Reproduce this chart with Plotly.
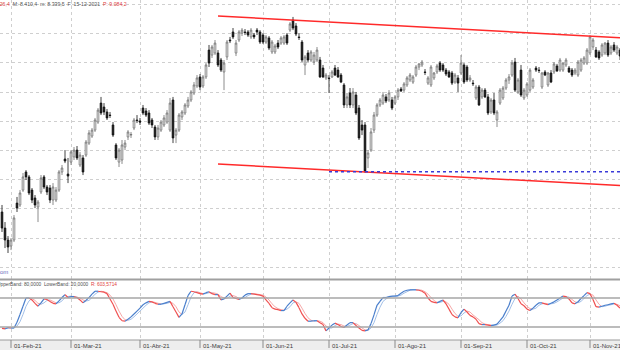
import pandas as pd
import plotly.graph_objects as go

# ---------------- data ----------------
dates = pd.bdate_range("2021-01-27", "2021-11-15", freq="C",
                       holidays=["2021-04-02", "2021-04-05"])

open_ = [7979, 7869, 7787, 7746, 7787, 8040, 8027, 8129, 8253, 8219, 8129, 8075, 8013, 8116, 8219, 8150, 8143, 8061, 8061, 8129,
         8253, 8342, 8239, 8321, 8356, 8403, 8301, 8349, 8369, 8451, 8499, 8540, 8595, 8725, 8698, 8664, 8643, 8575, 8438, 8321,
         8335, 8424, 8493, 8506, 8554, 8609, 8602, 8691, 8671, 8657, 8609, 8561, 8493, 8540, 8575, 8595, 8540, 8746, 8506, 8540,
         8630, 8657, 8705, 8746, 8794, 8842, 8904, 8842, 8904, 9088, 9054, 9068, 9068, 9020, 8938, 9041, 9157, 9212, 9068, 9157,
         9205, 9212, 9212, 9178, 9191, 9225, 9212, 9191, 9143, 9171, 9075, 9075, 9136, 9136, 9136, 9191, 9225, 9294, 9253, 9178,
         9143, 8986, 9068, 9020, 9006, 9020, 9020, 8965, 8897, 8897, 8904, 8965, 8951, 8917, 8849, 8712, 8794, 8712, 8780, 8691,
         8575, 8575, 8349, 8403, 8540, 8643, 8712, 8725, 8767, 8746, 8746, 8725, 8767, 8821, 8814, 8849, 8883, 8869, 8917, 8972,
         8986, 8938, 8862, 8849, 8897, 8938, 8999, 8986, 8951, 8938, 8931, 8869, 8897, 8931, 8986, 8972, 8883, 8862, 8760, 8835,
         8767, 8814, 8767, 8664, 8746, 8609, 8725, 8760, 8828, 8883, 8917, 9006, 8801, 8951, 8760, 8780, 8814, 8835, 8965, 8951,
         8835, 8938, 8849, 8931, 8938, 8979, 8951, 8951, 8986, 8965, 8951, 8931, 8917, 8951, 8999, 8999, 9068, 9109, 9088, 9075,
         9054, 9068, 9136, 9068, 9123, 9068, 9088]
high = [8027, 7910, 7814, 7801, 7958, 8082, 8129, 8246, 8266, 8232, 8143, 8095, 8061, 8232, 8232, 8164, 8164, 8177, 8150, 8266,
        8301, 8403, 8349, 8403, 8424, 8431, 8390, 8369, 8472, 8540, 8554, 8623, 8691, 8767, 8725, 8684, 8664, 8595, 8451, 8417,
        8472, 8472, 8540, 8527, 8623, 8643, 8623, 8712, 8691, 8677, 8623, 8575, 8575, 8609, 8643, 8677, 8760, 8767, 8554, 8657,
        8677, 8725, 8767, 8814, 8869, 8917, 8924, 8917, 8999, 9123, 9123, 9157, 9088, 9034, 9020, 9157, 9178, 9239, 9157, 9225,
        9239, 9232, 9225, 9239, 9205, 9239, 9225, 9205, 9191, 9184, 9157, 9130, 9157, 9184, 9191, 9205, 9280, 9315, 9273, 9205,
        9157, 9054, 9088, 9088, 9075, 9109, 9041, 8986, 8931, 8917, 8951, 8986, 8972, 8931, 8862, 8794, 8828, 8828, 8801, 8712,
        8609, 8595, 8403, 8554, 8664, 8725, 8760, 8801, 8787, 8814, 8767, 8780, 8828, 8835, 8869, 8910, 8931, 8917, 8986, 8999,
        9020, 8958, 8910, 8986, 8938, 8993, 9013, 8999, 8965, 8951, 8945, 8931, 8917, 9054, 8999, 8986, 8917, 8883, 8849, 8849,
        8828, 8828, 8787, 8760, 8794, 8677, 8828, 8842, 8897, 8924, 9020, 9034, 8897, 8986, 8828, 8869, 8965, 8897, 8979, 8972,
        8938, 8951, 8938, 8951, 9006, 8993, 9034, 9006, 9034, 8979, 8965, 8965, 9020, 9034, 9047, 9102, 9191, 9171, 9109, 9088,
        9136, 9143, 9157, 9123, 9143, 9123, 9102]
low = [7842, 7732, 7698, 7718, 7773, 7979, 8013, 8116, 8198, 8095, 8040, 8006, 7910, 8102, 8136, 8095, 8040, 8027, 8047, 8116,
       8232, 8314, 8177, 8301, 8335, 8335, 8287, 8232, 8356, 8438, 8486, 8527, 8582, 8643, 8643, 8609, 8623, 8493, 8335, 8287,
       8308, 8403, 8472, 8486, 8540, 8588, 8575, 8643, 8630, 8575, 8554, 8472, 8472, 8527, 8561, 8582, 8527, 8451, 8451, 8527,
       8609, 8643, 8691, 8732, 8780, 8828, 8814, 8828, 8890, 8972, 9034, 9054, 8972, 8938, 8814, 9020, 9136, 9164, 9047, 9143,
       9184, 9191, 9178, 9164, 9164, 9191, 9130, 9130, 9130, 9088, 9061, 9061, 9095, 9123, 9123, 9123, 9212, 9225, 9184, 9157,
       9006, 8917, 9006, 9006, 8986, 9006, 8897, 8897, 8883, 8794, 8897, 8910, 8897, 8862, 8691, 8691, 8691, 8691, 8643, 8472,
       8506, 8246, 8280, 8390, 8520, 8630, 8698, 8712, 8725, 8732, 8677, 8712, 8746, 8801, 8801, 8835, 8869, 8856, 8904, 8951,
       8972, 8917, 8849, 8835, 8883, 8924, 8938, 8938, 8910, 8897, 8849, 8856, 8801, 8917, 8856, 8869, 8869, 8842, 8746, 8705,
       8753, 8760, 8643, 8650, 8643, 8561, 8712, 8746, 8814, 8856, 8904, 8801, 8787, 8767, 8746, 8767, 8801, 8821, 8938, 8931,
       8821, 8910, 8835, 8862, 8924, 8938, 8938, 8938, 8972, 8931, 8904, 8917, 8904, 8938, 8986, 8986, 9054, 9088, 9034, 9020,
       9041, 9054, 9041, 9054, 9075, 9054, 9020]
close = [7869, 7787, 7739, 7787, 7938, 8006, 8109, 8219, 8219, 8109, 8061, 8027, 8047, 8212, 8150, 8116, 8061, 8150, 8129, 8253,
         8280, 8328, 8225, 8390, 8403, 8349, 8369, 8253, 8458, 8520, 8540, 8609, 8677, 8657, 8664, 8623, 8640, 8506, 8349, 8403,
         8438, 8451, 8527, 8510, 8609, 8605, 8595, 8657, 8643, 8588, 8575, 8493, 8554, 8595, 8623, 8657, 8725, 8486, 8540, 8643,
         8664, 8712, 8746, 8801, 8849, 8897, 8835, 8904, 8986, 8999, 9109, 9136, 8986, 8951, 8999, 9143, 9152, 9178, 9136, 9212,
         9225, 9208, 9191, 9225, 9178, 9212, 9143, 9143, 9178, 9102, 9143, 9116, 9109, 9171, 9178, 9136, 9267, 9239, 9198, 9174,
         9020, 9041, 9020, 9075, 9054, 9088, 8904, 8904, 8917, 8893, 8938, 8917, 8904, 8869, 8712, 8767, 8712, 8801, 8657, 8486,
         8540, 8260, 8383, 8527, 8643, 8712, 8746, 8780, 8739, 8794, 8691, 8767, 8814, 8808, 8856, 8897, 8917, 8904, 8972, 8993,
         9006, 8935, 8897, 8972, 8931, 8979, 8951, 8951, 8924, 8904, 8862, 8917, 8862, 8999, 8869, 8883, 8897, 8858, 8835, 8712,
         8814, 8767, 8657, 8746, 8657, 8664, 8814, 8828, 8883, 8904, 8999, 8814, 8883, 8780, 8814, 8856, 8951, 8883, 8951, 8948,
         8931, 8917, 8931, 8869, 8993, 8945, 9020, 8999, 9020, 8938, 8917, 8951, 9006, 9020, 9034, 9088, 9178, 9157, 9041, 9034,
         9123, 9136, 9054, 9109, 9088, 9109, 9047]

stoch_k = [17, 16, 19, 18, 18, 30, 46, 63, 80, 80, 76, 69, 63, 70, 78, 77, 73, 69, 68, 74,
           81, 87, 81, 83, 83, 81, 76, 70, 75, 81, 88, 94, 94, 93, 92, 89, 78, 67, 53, 40,
           33, 32, 36, 41, 47, 53, 59, 66, 70, 73, 72, 69, 67, 67, 69, 71, 73, 62, 51, 40,
           47, 66, 85, 94, 93, 91, 89, 88, 91, 93, 89, 87, 87, 76, 78, 84, 90, 81, 79, 77,
           80, 86, 89, 89, 88, 87, 86, 84, 76, 69, 60, 57, 56, 54, 54, 63, 70, 76, 71, 60,
           47, 38, 32, 32, 33, 33, 29, 25, 12, 18, 24, 28, 25, 21, 19, 24, 29, 29, 23, 18,
           13, 12, 14, 27, 45, 65, 73, 81, 81, 83, 84, 84, 85, 90, 94, 96, 97, 97, 97, 96,
           94, 90, 80, 73, 71, 70, 73, 76, 68, 57, 46, 41, 39, 50, 57, 51, 44, 41, 36, 27,
           25, 25, 24, 23, 24, 26, 33, 41, 53, 65, 84, 88, 79, 68, 64, 57, 54, 59, 65, 70,
           70, 68, 66, 69, 72, 76, 80, 84, 83, 78, 70, 68, 72, 79, 85, 91, 89, 77, 62, 61,
           63, 65, 66, 68, 69, 65, 59]
stoch_d = [18, 17, 17, 18, 18, 22, 31, 46, 63, 74, 79, 75, 69, 67, 70, 75, 76, 73, 70, 70,
           74, 81, 83, 84, 82, 82, 80, 76, 74, 75, 81, 88, 92, 94, 93, 91, 86, 78, 66, 53,
           42, 35, 34, 36, 41, 47, 53, 59, 65, 70, 72, 71, 69, 68, 68, 69, 71, 69, 62, 51,
           46, 51, 66, 82, 91, 93, 91, 89, 89, 91, 91, 90, 88, 83, 80, 79, 84, 85, 83, 79,
           79, 81, 85, 88, 89, 88, 87, 86, 82, 76, 68, 62, 58, 56, 55, 57, 62, 70, 72, 69,
           59, 48, 39, 34, 32, 33, 32, 29, 22, 18, 18, 23, 26, 25, 22, 21, 24, 27, 27, 23,
           18, 14, 13, 18, 29, 46, 61, 73, 78, 82, 83, 84, 84, 86, 90, 93, 96, 97, 97, 97,
           96, 93, 88, 81, 75, 71, 71, 73, 72, 67, 57, 48, 42, 43, 49, 53, 51, 45, 40, 35,
           29, 26, 25, 24, 24, 24, 28, 33, 42, 53, 67, 79, 84, 78, 70, 63, 58, 57, 59, 65,
           68, 69, 68, 68, 69, 72, 76, 80, 82, 82, 77, 72, 70, 73, 79, 85, 88, 86, 76, 67,
           62, 63, 65, 66, 68, 67, 64]

band_levels = [80, 20]

month_ticks = ["2021-02-01", "2021-03-01", "2021-04-01", "2021-05-03", "2021-06-01",
               "2021-07-01", "2021-08-02", "2021-09-01", "2021-10-01", "2021-11-01"]
month_labels = ["01-Feb-21", "01-Mar-21", "01-Abr-21", "01-May-21", "01-Jun-21",
                "01-Jul-21", "01-Ago-21", "01-Sep-21", "01-Oct-21", "01-Nov-21"]

channel_dates = ["2021-05-11", "2021-11-15"]
channel_upper = [9321, 9173]
channel_lower = [8308, 8160]
support_dates = ["2021-07-01", "2021-11-15"]
support_level = [8255, 8255]

# ---------------- figure ----------------
n = min(len(dates), len(close))
idx = list(range(n))
date_pos = {d.strftime("%Y-%m-%d"): i for i, d in enumerate(dates[:n])}
tick_idx = [date_pos[d] for d in month_ticks]

BLUE, RED = "#4a7fcc", "#f05050"
LBLUE, LRED = "#a3c0e8", "#f6a8a8"

fig = go.Figure()

fig.add_trace(go.Candlestick(
    x=idx, open=open_[:n], high=high[:n], low=low[:n], close=close[:n],
    increasing=dict(fillcolor="white", line=dict(color="#6e6e6e", width=0.8)),
    decreasing=dict(fillcolor="#111111", line=dict(color="#111111", width=0.8)),
    whiskerwidth=0, hoverinfo="skip", xaxis="x", yaxis="y"))

# channel and support
cx = [date_pos[d] for d in channel_dates]
fig.add_trace(go.Scatter(x=cx, y=channel_upper, mode="lines",
                         line=dict(color="#ff2a2a", width=1.5), hoverinfo="skip"))
fig.add_trace(go.Scatter(x=cx, y=channel_lower, mode="lines",
                         line=dict(color="#ff2a2a", width=1.5), hoverinfo="skip"))
sx = [date_pos[d] for d in support_dates]
fig.add_trace(go.Scatter(x=sx, y=support_level, mode="lines",
                         line=dict(color="#3a3ad8", width=1.5, dash="dot"), hoverinfo="skip"))


def split_segments(vals):
    ux, uy, dx, dy = [], [], [], []
    for i in range(len(vals) - 1):
        if vals[i + 1] >= vals[i]:
            ux += [idx[i], idx[i + 1], None]
            uy += [vals[i], vals[i + 1], None]
        else:
            dx += [idx[i], idx[i + 1], None]
            dy += [vals[i], vals[i + 1], None]
    return ux, uy, dx, dy


for vals, cu, cd, w in [(stoch_d[:n], LBLUE, LRED, 1.0), (stoch_k[:n], BLUE, RED, 1.2)]:
    ux, uy, dx, dy = split_segments(vals)
    fig.add_trace(go.Scatter(x=ux, y=uy, mode="lines", line=dict(color=cu, width=w),
                             xaxis="x2", yaxis="y2", hoverinfo="skip", connectgaps=False))
    fig.add_trace(go.Scatter(x=dx, y=dy, mode="lines", line=dict(color=cd, width=w),
                             xaxis="x2", yaxis="y2", hoverinfo="skip", connectgaps=False))

H = 350.0
def py(px):
    return 1 - px / H

grid = dict(showgrid=True, gridcolor="#cfcfcf", griddash="dot", gridwidth=1)
xcommon = dict(range=[-0.667, n - 1], tickmode="array", tickvals=tick_idx,
               showticklabels=False, ticks="", zeroline=False, showline=False, **grid)

fig.update_layout(
    width=620, height=350, margin=dict(l=0, r=0, t=0, b=0),
    paper_bgcolor="white", plot_bgcolor="white", showlegend=False,
    boxgap=0.2,
    xaxis=dict(domain=[0, 1], anchor="y", rangeslider=dict(visible=False), **xcommon),
    xaxis2=dict(domain=[0, 1], anchor="y2", matches="x", **xcommon),
    yaxis=dict(domain=[py(279), 1], range=[7520, 9431], tick0=0, dtick=200,
               showticklabels=False, ticks="", zeroline=False, showline=False, **grid),
    yaxis2=dict(domain=[py(340), py(281)], range=[-6.9, 115.2], showgrid=False,
                showticklabels=False, ticks="", zeroline=False, showline=False),
)

shapes = []
for lv in band_levels:
    shapes.append(dict(type="line", xref="paper", yref="y2", x0=0, x1=1, y0=lv, y1=lv,
                       line=dict(color="#a6a6a6", width=1.5)))
# panel separator
shapes.append(dict(type="line", xref="paper", yref="paper", x0=0, x1=1, y0=py(279.5), y1=py(279.5),
                   line=dict(color="#a0a0a0", width=2)))
# bottom date band
shapes.append(dict(type="rect", xref="paper", yref="paper", x0=0, x1=1, y0=0, y1=py(340),
                   fillcolor="#eeeeee", line=dict(width=0), layer="above"))
shapes.append(dict(type="line", xref="paper", yref="paper", x0=0, x1=1, y0=py(340), y1=py(340),
                   line=dict(color="#9a9a9a", width=1)))
for t in tick_idx:
    shapes.append(dict(type="line", xref="x", yref="paper", x0=t, x1=t, y0=py(340), y1=py(348),
                       line=dict(color="#8a8a8a", width=1)))
fig.update_layout(shapes=shapes)

FONT = "Liberation Sans, Arial, sans-serif"
ann = []
for t, lab in zip(tick_idx, month_labels):
    ann.append(dict(x=t, y=py(345.5), xref="x", yref="paper", text=lab, showarrow=False,
                    xanchor="left", yanchor="middle", xshift=1,
                    font=dict(family=FONT, size=6, color="#404040")))
ann.append(dict(x=0, y=py(3.5), xref="paper", yref="paper", xanchor="left", yanchor="middle",
                xshift=-4, showarrow=False,
                text='<span style="color:#e04040">-26,4</span>  M: 8.410,4  m: 8.339,5  F: 15-12-2021  '
                     '<span style="color:#e04040">P: 9.084,2</span>',
                font=dict(family=FONT, size=5.2, color="#555555")))
ann.append(dict(x=0, y=py(272), xref="paper", yref="paper", xanchor="right", yanchor="middle",
                xshift=10, showarrow=False, text="com",
                font=dict(family=FONT, size=6, color="#6a6ac0")))
ann.append(dict(x=0, y=py(284), xref="paper", yref="paper", xanchor="left", yanchor="middle",
                xshift=-5, showarrow=False,
                text='UpperBand: 80,0000  LowerBand: 20,0000  <span style="color:#e04040">R: 603,5714</span>',
                font=dict(family=FONT, size=4.8, color="#505050")))
fig.update_layout(annotations=ann)

fig.write_html("out.html")
